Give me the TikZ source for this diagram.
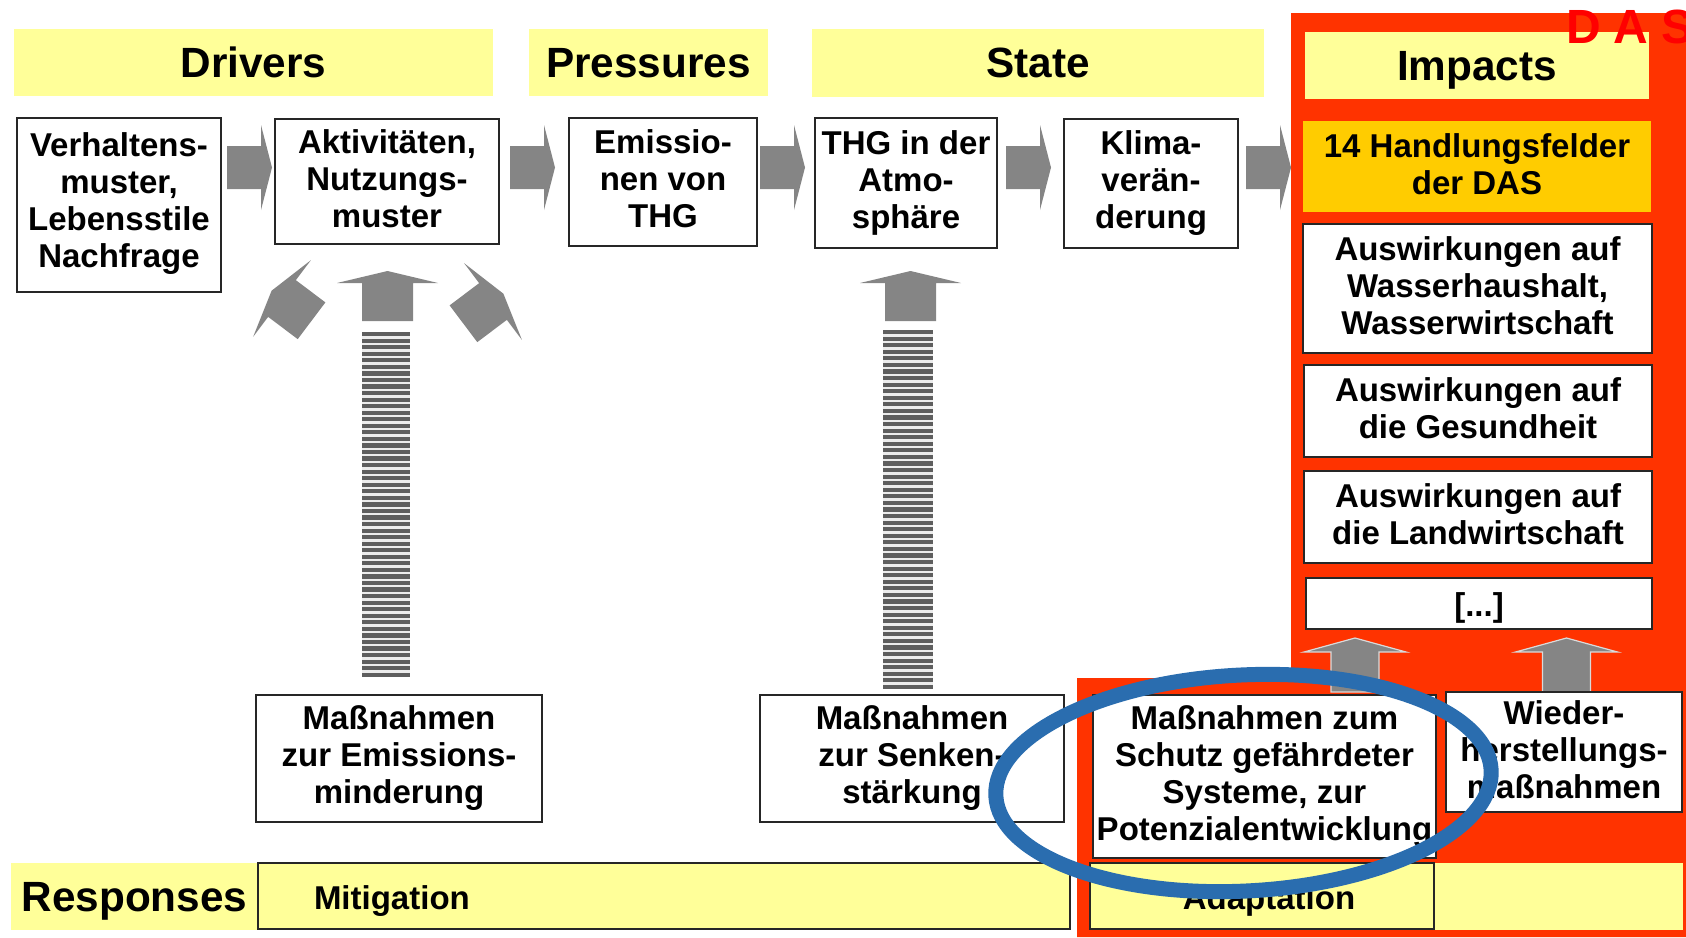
\documentclass[tikz,border=0pt]{standalone}
\usepackage{fontspec}
\setmainfont{Liberation Sans}

\definecolor{bandyellow}{HTML}{FFFF99}
\definecolor{dasred}{HTML}{FF3300}
\definecolor{fieldorange}{HTML}{FFCC00}
\definecolor{arrowgray}{HTML}{858585}
\definecolor{stripegray}{HTML}{5E5E5E}
\definecolor{ringblue}{HTML}{2A6DAF}
\definecolor{titlered}{HTML}{FF0000}

% line struts with the ascent and descent of the box font (33pt),
% moved down by #1 pt to place the lines inside their box
\newcommand\boxstrut[1]{\rule[\dimexpr-7pt+#1pt\relax]{0pt}{36.86pt}}
\newcommand\headstrut{\rule[-9pt]{0pt}{47.25pt}}
\newcommand\boxfont{\fontsize{33}{37}\selectfont\bfseries}
\newcommand\headfont{\fontsize{42.3}{47}\selectfont\bfseries}

\tikzset{
  vshift/.style={execute at begin node={\boxstrut{#1}},
                 execute at end node={\boxstrut{#1}}},
  % block arrow pointing right, origin at the base of the head
  harrow/.pic={\fill[arrowgray] (-34,-21.5) -- (0,-21.5) -- (0,-42.5) -- (11,0)
      -- (0,42.5) -- (0,21.5) -- (-34,21.5) -- cycle;},
  % block arrow pointing up, origin at the base of the head
  uparrow/.pic={\fill[arrowgray] (-25.5,38) -- (-25.5,0) -- (-50.5,0) -- (0,-12)
      -- (50.5,0) -- (25.5,0) -- (25.5,38) -- cycle;},
  tiltarrow/.pic={\fill[arrowgray] (-23,37) -- (-23,0) -- (-48,0) -- (0,-13)
      -- (48,0) -- (23,0) -- (23,37) -- cycle;},
  smallarrow/.pic={\filldraw[fill=arrowgray, draw=white!70!arrowgray, line width=1.2pt]
      (-24,40) -- (-24,0) -- (-51,0) -- (0,-14) -- (51,0) -- (24,0) -- (24,40) -- cycle;},
}

\begin{document}
\begin{tikzpicture}[x=1pt,y=-1pt,
  every node/.style={inner sep=0pt, outer sep=0pt},
  box/.style={align=center, vshift=2, draw=black!85, line width=1.6pt, fill=white, font=\boxfont},
  band/.style={align=center, execute at begin node=\headstrut, execute at end node=\headstrut,
               fill=bandyellow, font=\headfont},
  lowband/.style={align=center, vshift=4, fill=bandyellow, draw=black!85, line width=1.6pt, font=\boxfont},
]
\useasboundingbox (0,0) rectangle (1686,937);

% red area of the adaptation strategy
\fill[dasred] (1291,13) -- (1686,13) -- (1686,937) -- (1077,937) -- (1077,678)
  -- (1291,678) -- cycle;

% column headings
\node[band, minimum width=479pt, minimum height=67pt] (drivers) at (253.5,62.5) {Drivers};
\node[band, minimum width=239pt, minimum height=67pt] (pressures) at (648.5,62.5) {Pressures};
\node[band, minimum width=452pt, minimum height=68pt] (state) at (1038,63) {State};
\node[band, minimum width=344pt, minimum height=67pt] (impacts) at (1477,65.5) {Impacts};

% causal chain
\node[box, vshift=-2.5, minimum width=204pt, minimum height=174pt] (verh) at (119,205)
  {Verhaltens-\\muster,\\Lebensstile\\Nachfrage};
\node[box, vshift=4, minimum width=224pt, minimum height=125pt] (akt) at (387,181.5)
  {Aktivitäten,\\Nutzungs-\\muster};
\node[box, vshift=0.7, minimum width=188pt, minimum height=128pt] (emis) at (663,182)
  {Emissio-\\nen von\\THG};
\node[box, vshift=0.3, minimum width=182pt, minimum height=130pt] (thg) at (906,183)
  {THG in der\\Atmo-\\sphäre};
\node[box, minimum width=174pt, minimum height=129pt] (klima) at (1151,183.5)
  {Klima-\\verän-\\derung};

\pic at (261,167.5) {harrow};
\pic at (544,167.5) {harrow};
\pic at (794,167.5) {harrow};
\pic at (1040,167.5) {harrow};
\pic at (1280,167.5) {harrow};

% impact fields
\node[align=center, vshift=1.6, fill=fieldorange, font=\boxfont, minimum width=348pt, minimum height=91pt]
  (hf) at (1477,166.5) {14 Handlungsfelder\\der DAS};
\node[box, vshift=1.3, minimum width=349pt, minimum height=129pt] (imp1) at (1477.5,288.5)
  {Auswirkungen auf\\Wasserhaushalt,\\Wasserwirtschaft};
\node[box, vshift=1.6, minimum width=348pt, minimum height=92pt] (imp2) at (1478,411)
  {Auswirkungen auf\\die Gesundheit};
\node[box, vshift=1, minimum width=348pt, minimum height=92pt] (imp3) at (1478,517)
  {Auswirkungen auf\\die Landwirtschaft};
\node[box, vshift=1, minimum width=346pt, minimum height=51pt] (imp4) at (1479,603.5) {[...]};

% mitigation arrows
\pic at (387.5,283) {uparrow};
\pic[rotate=53] at (282,298.5) {tiltarrow};
\pic[rotate=-53] at (493,301.5) {tiltarrow};
\pic at (910.5,283) {uparrow};

\fill[gray!15] (362,332) rectangle (410,677);
\foreach \i in {0,...,52}
  \fill[stripegray] (362,{332+6.55*\i}) rectangle (410,{336.2+6.55*\i});
\fill[gray!15] (883,330) rectangle (933,689);
\foreach \i in {0,...,54}
  \fill[stripegray] (883,{330+6.57*\i}) rectangle (933,{334.2+6.57*\i});

% adaptation arrows
\pic at (1355,652) {smallarrow};
\pic at (1566.5,652) {smallarrow};

% responses
\node[box, vshift=3.3, minimum width=286pt, minimum height=127pt] (emred) at (399,758.5)
  {Maßnahmen\\zur Emissions-\\minderung};
\node[box, vshift=2.6, minimum width=304pt, minimum height=127pt] (senken) at (912,758.5)
  {Maßnahmen\\zur Senken-\\stärkung};
\node[box, vshift=2.6, minimum width=343pt, minimum height=163pt] (schutz) at (1264.5,776.5)
  {Maßnahmen zum\\Schutz gefährdeter\\Systeme, zur\\Potenzialentwicklung};
\node[box, vshift=4.3, minimum width=236pt, minimum height=120pt] (wieder) at (1564,752)
  {Wieder-\\herstellungs-\\maßnahmen};

% bottom row
\node[band, minimum width=247pt, minimum height=67pt] (resp) at (134.5,896.5) {Responses};
\node[lowband, minimum height=66pt, text width=700pt, inner xsep=56pt, align=left]
  (mitig) at (664,896) {Mitigation};
\node[fill=bandyellow, minimum width=249pt, minimum height=67pt] (adrest) at (1558.5,896.5) {};
\node[lowband, minimum width=344pt, minimum height=66pt] (adapt) at (1262,896)
  {\hspace*{14pt}Adaptation};

% title of the red area, over the heading band
\node[anchor=base west, text=titlered, font=\fontsize{48}{48}\selectfont\bfseries]
  (das) at (1566,43) {D A S};

% highlight ring
\coordinate (ringc) at (1243.5,783);
\draw[ringblue, line width=15pt, rotate around={3:(ringc)}]
  (ringc) ellipse [x radius=248, y radius=108];
\end{tikzpicture}
\end{document}
